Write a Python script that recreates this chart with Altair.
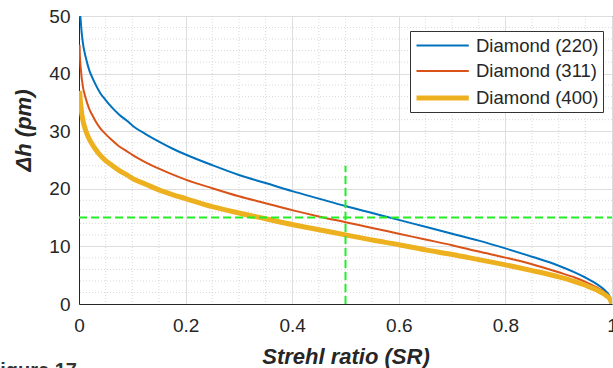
import altair as alt
import pandas as pd

# Diamond (220)
sr_220 = [0.0025, 0.003, 0.004, 0.005, 0.006, 0.008, 0.01, 0.013, 0.016, 0.02, 0.025, 0.03, 0.04, 0.05,
          0.06, 0.075, 0.09, 0.1, 0.125, 0.15, 0.175, 0.2, 0.25, 0.3, 0.35, 0.4, 0.45,
          0.5, 0.55, 0.6, 0.65, 0.7, 0.75, 0.8, 0.85, 0.9, 0.93, 0.95, 0.97, 0.98, 0.99, 0.995, 1.0]
dh_220 = [50.0, 49.4, 48.3, 47.1, 46.3, 44.9, 43.9, 42.7, 41.6, 40.4, 39.3, 38.3, 36.6, 35.4,
          34.3, 32.9, 31.8, 31.0, 29.5, 28.2, 27.0, 25.95, 24.1, 22.4, 21.0, 19.6, 18.3,
          17.0, 15.8, 14.6, 13.4, 12.2, 11.0, 9.65, 8.2, 6.65, 5.5, 4.6, 3.55, 2.9, 2.05, 1.45, 0.0]
# Diamond (311)
sr_311 = [0.001, 0.0015, 0.002, 0.003, 0.004, 0.005, 0.006, 0.008, 0.01, 0.013, 0.016, 0.02, 0.025, 0.03,
          0.04, 0.05, 0.06, 0.075, 0.09, 0.1, 0.125, 0.15, 0.175, 0.2, 0.25, 0.3, 0.35, 0.4, 0.45,
          0.5, 0.55, 0.6, 0.65, 0.7, 0.75, 0.8, 0.85, 0.9, 0.93, 0.95, 0.97, 0.98, 0.99, 0.995, 1.0]
dh_311 = [45.0, 43.4, 42.5, 41.2, 40.3, 39.2, 38.6, 37.4, 36.6, 35.6, 34.7, 33.7, 32.8, 31.9,
          30.5, 29.5, 28.6, 27.4, 26.5, 25.9, 24.6, 23.5, 22.5, 21.6, 20.1, 18.7, 17.5, 16.3, 15.2,
          14.2, 13.2, 12.2, 11.2, 10.2, 9.1, 8.05, 6.9, 5.5, 4.6, 3.85, 2.95, 2.4, 1.7, 1.2, 0.0]
# Diamond (400)
sr_400 = [0.0013, 0.0015, 0.002, 0.003, 0.004, 0.005, 0.006, 0.008, 0.01, 0.013, 0.016, 0.02, 0.025, 0.03,
          0.04, 0.05, 0.06, 0.075, 0.09, 0.1, 0.125, 0.15, 0.175, 0.2, 0.25, 0.3, 0.35, 0.4, 0.45,
          0.5, 0.55, 0.6, 0.65, 0.7, 0.75, 0.8, 0.85, 0.9, 0.93, 0.95, 0.97, 0.98, 0.99, 0.995, 1.0]
dh_400 = [37.0, 36.7, 35.9, 34.8, 34.0, 33.1, 32.6, 31.6, 30.9, 30.0, 29.3, 28.5, 27.7, 27.0,
          25.8, 24.9, 24.2, 23.2, 22.4, 21.8, 20.8, 19.8, 19.0, 18.3, 16.9, 15.8, 14.8, 13.8, 12.9,
          12.0, 11.1, 10.3, 9.4, 8.6, 7.7, 6.8, 5.8, 4.7, 3.9, 3.25, 2.5, 2.0, 1.4, 1.0, 0.0]

series = ["Diamond (220)", "Diamond (311)", "Diamond (400)"]
colors = ["#0072BD", "#D95319", "#EDB120"]
widths = [2, 2, 5]

x_major = [0, 0.2, 0.4, 0.6, 0.8, 1]
y_major = [0, 10, 20, 30, 40, 50]
x_minor = [0.05, 0.1, 0.15, 0.25, 0.3, 0.35, 0.45, 0.5, 0.55, 0.65, 0.7, 0.75, 0.85, 0.9, 0.95]
y_minor = [2, 4, 6, 8, 12, 14, 16, 18, 22, 24, 26, 28, 32, 34, 36, 38, 42, 44, 46, 48]

h_line = {"x": [0.0], "x2": [1.0], "y": [15.0]}
v_line = {"x": [0.5], "y": [0.0], "y2": [24.0]}

rows = []
for name, xs_, ys_ in zip(series, [sr_220, sr_311, sr_400], [dh_220, dh_311, dh_400]):
    for i, (a, b) in enumerate(zip(xs_, ys_)):
        rows.append({"series": name, "sr": a, "dh": b, "i": i})
df = pd.DataFrame(rows)

FONT = "Liberation Sans"
xs = alt.Scale(domain=[0, 1], nice=False)
ys = alt.Scale(domain=[0, 50], nice=False)

XT = "Strehl ratio (SR)"
YT = "Δh (pm)"
x_axis = alt.Axis(values=x_major, format=".1~f", grid=True, ticks=False, labelFlush=False,
                  labelPadding=12, titleY=59, titleBaseline="alphabetic")
y_axis = alt.Axis(values=y_major, format="d", grid=True, ticks=False, labelFlush=False,
                  labelPadding=9, titleX=-49, titleY=114, titleBaseline="alphabetic",
                  titleAngle=270, titleAlign="center")

minor_x_layer = alt.Chart(pd.DataFrame({"x": x_minor})).mark_rule(
    color="#cfcfcf", strokeDash=[1, 2], strokeWidth=0.8
).encode(x=alt.X("x:Q", scale=xs, axis=x_axis, title=XT))

minor_y_layer = alt.Chart(pd.DataFrame({"y": y_minor})).mark_rule(
    color="#cfcfcf", strokeDash=[1, 2], strokeWidth=0.8
).encode(y=alt.Y("y:Q", scale=ys, axis=y_axis, title=YT))

lines = alt.Chart(df).mark_line(clip=True, interpolate="monotone", strokeCap="butt").encode(
    x=alt.X("sr:Q", scale=xs, axis=x_axis, title=XT),
    y=alt.Y("dh:Q", scale=ys, axis=y_axis, title=YT),
    color=alt.Color("series:N", scale=alt.Scale(domain=series, range=colors), title=None),
    strokeWidth=alt.StrokeWidth("series:N",
                                scale=alt.Scale(type="ordinal", domain=series, range=widths),
                                title=None),
    order="i:Q",
)

h_rule = alt.Chart(pd.DataFrame(h_line)).mark_rule(
    color="#22ee22", strokeDash=[8, 4], strokeWidth=2
).encode(x=alt.X("x:Q", scale=xs, axis=x_axis, title=XT), x2="x2:Q",
         y=alt.Y("y:Q", scale=ys, axis=y_axis, title=YT))

v_rule = alt.Chart(pd.DataFrame(v_line)).mark_rule(
    color="#22ee22", strokeDash=[8, 4], strokeWidth=2
).encode(x=alt.X("x:Q", scale=xs, axis=x_axis, title=XT),
         y=alt.Y("y:Q", scale=ys, axis=y_axis, title=YT), y2="y2:Q")

fig_label = alt.Chart(pd.DataFrame({"t": ["Figure 17"]})).mark_text(
    align="right", baseline="alphabetic", font=FONT, fontSize=20, fontWeight="bold",
    color="#333333"
).encode(text="t:N", x=alt.value(-2), y=alt.value(361))

chart = alt.layer(minor_x_layer, minor_y_layer, lines, h_rule, v_rule, fig_label).properties(
    width=533, height=288,
    padding={"left": 79, "top": 16, "right": 1, "bottom": 64},
    autosize=alt.AutoSizeParams(type="none"),
).configure_view(
    stroke="#262626", strokeWidth=1
).configure_axis(
    labelFont=FONT, labelFontSize=19, labelColor="#262626",
    titleFont=FONT, titleFontSize=22, titleColor="#262626",
    titleFontWeight="bold", titleFontStyle="italic",
    domainColor="#262626", gridColor="#dedede", gridWidth=1,
).configure_legend(
    orient="none", legendX=331, legendY=15,
    fillColor="white", strokeColor="#333333", padding=4,
    labelFont=FONT, labelFontSize=18.5, labelColor="#262626",
    symbolType="M-1,0H4.5", symbolSize=361, rowPadding=5.5, labelOffset=38,
)

chart.save("out.html", embed_options={"renderer": "svg", "actions": False})
